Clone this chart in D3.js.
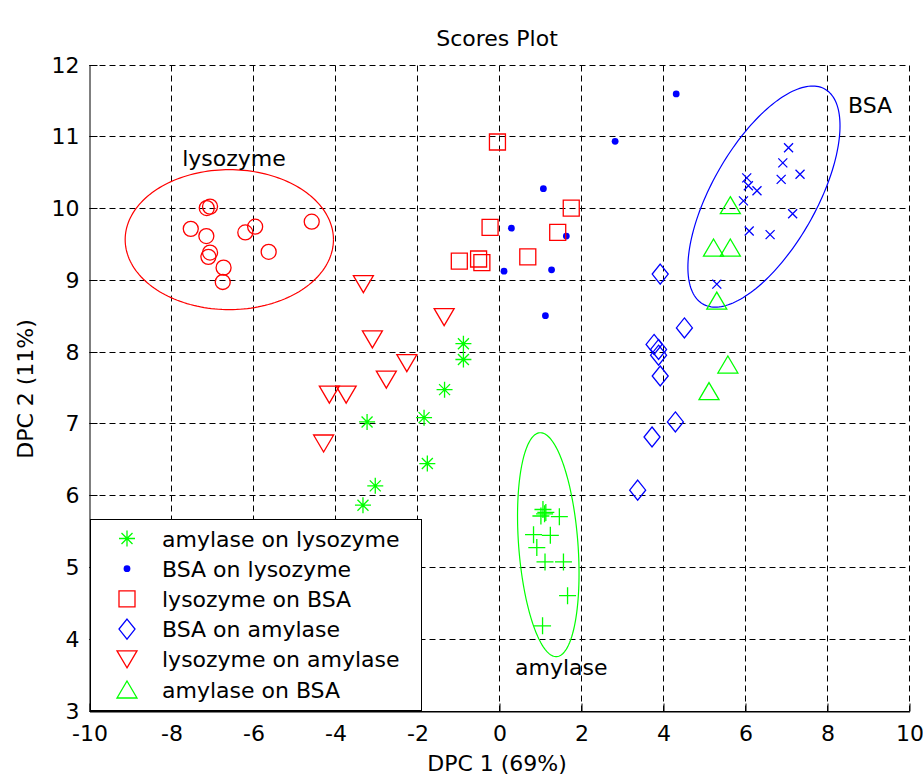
<!DOCTYPE html>
<html><head><meta charset="utf-8">
<script src="https://cdn.jsdelivr.net/npm/d3@7"></script>
<style>
body{margin:0;background:#fff;}
svg text{font-family:"DejaVu Sans",sans-serif;font-size:22px;fill:#000;}
</style></head><body>
<svg id="chart" width="923" height="777"></svg>
<script>
// ---------------- data ----------------
const xTicks = [-10,-8,-6,-4,-2,0,2,4,6,8,10];
const yTicks = [3,4,5,6,7,8,9,10,11,12];

const amylaseOnLysozyme = [[-0.88,8.11],[-0.88,7.89],[-1.34,7.47],[-1.84,7.08],[-3.23,7.02],[-1.76,6.44],[-3.03,6.13],[-3.33,5.86]];
const bsaOnLysozyme = [[1.07,10.27],[0.29,9.72],[1.63,9.61],[0.11,9.12],[1.27,9.14],[1.12,8.50],[4.31,11.59],[2.82,10.93]];
const lysozymeOnBSA = [[-0.05,10.92],[-0.23,9.73],[-0.98,9.26],[-0.51,9.29],[-0.43,9.24],[0.69,9.32],[1.42,9.66],[1.75,10.0]];
const bsaOnAmylase = [[3.92,9.08],[4.51,8.33],[3.77,8.10],[3.88,8.03],[3.88,7.95],[3.92,7.66],[4.29,7.02],[3.72,6.81],[3.37,6.07]];
const lysozymeOnAmylase = [[-1.35,8.48],[-3.10,8.17],[-2.26,7.84],[-2.76,7.61],[-4.15,7.40],[-3.74,7.40],[-4.29,6.72],[-3.32,8.94]];
const amylaseOnBSA = [[5.63,10.04],[5.22,9.45],[5.63,9.45],[5.30,8.71],[5.57,7.82],[5.11,7.45]];

const lysozymeRef = [[-7.14,10.00],[-7.06,10.02],[-7.53,9.71],[-7.15,9.61],[-7.06,9.38],[-7.10,9.32],[-6.73,9.17],[-6.75,8.97],[-6.20,9.66],[-5.96,9.74],[-5.63,9.39],[-4.58,9.81]];
const bsaRef = [[7.05,10.84],[6.91,10.63],[7.33,10.47],[6.87,10.40],[6.03,10.42],[6.07,10.31],[6.28,10.24],[5.95,10.10],[7.15,9.92],[6.09,9.68],[6.60,9.63],[5.30,8.94]];
const amylaseRef = [[1.06,5.80],[1.13,5.76],[1.01,5.71],[1.10,5.74],[1.46,5.70],[0.83,5.45],[1.24,5.44],[0.91,5.27],[1.11,5.07],[1.56,5.07],[1.66,4.60],[1.05,4.18]];

const legendLabels = ["amylase on lysozyme","BSA on lysozyme","lysozyme on BSA","BSA on amylase","lysozyme on amylase","amylase on BSA"];

const ellipseNames = ["lysozyme","BSA","amylase"];
const ellipseCenters = [[-6.59,9.56],[6.45,10.16],[1.19,5.31]];
const ellipseSpread = [[2.54,0.975],[1.855,1.54],[0.75,1.56]];
const ellipseCorr = [0,0.64,-0.256];
const ellipseLabelAt = [[-7.74,10.59],[8.50,11.33],[0.38,3.49]];

// ---------------- drawing ----------------
const svg = d3.select("#chart");
const x = d3.scaleLinear([-10,10],[89.5,909.5]);
const y = d3.scaleLinear([3,12],[710.5,64.5]);
const ry = v => Math.round(y(v)) + 0.5;

const RED="#ff0000", GREEN="#00ff00", BLUE="#0000ff";

const markerPaths = {
  asterisk:"M-8,0H8M0,-8V8M-5.5,-5.5L5.5,5.5M-5.5,5.5L5.5,-5.5",
  square:"M-8,-8H8V8H-8Z",
  diamond:"M0,-10L8,0L0,10L-8,0Z",
  triUp:"M0,-8.5L10,8.5L-10,8.5Z",
  triDown:"M0,8.5L10,-8.5L-10,-8.5Z",
  plus:"M-8.5,0H8.5M0,-8.5V8.5",
  cross:"M-4.5,-4.5L4.5,4.5M-4.5,4.5L4.5,-4.5"
};

function drawMarker(g, type, color){
  if(type==="dot"){
    g.append("circle").attr("r",3.4).attr("fill",color);
  } else if(type==="circle"){
    g.append("circle").attr("r",7.5).attr("fill","none").attr("stroke",color).attr("stroke-width",1.3);
  } else {
    g.append("path").attr("d",markerPaths[type]).attr("fill","none").attr("stroke",color).attr("stroke-width",1.3);
  }
}

// grid
const grid = svg.append("g").attr("stroke","#000").attr("stroke-width",1).attr("stroke-dasharray","6,4");
xTicks.filter(v=>v>-10).forEach(v=>{
  grid.append("line").attr("x1",x(v)).attr("x2",x(v)).attr("y1",ry(3)).attr("y2",ry(12));
});
yTicks.filter(v=>v>3).forEach(v=>{
  grid.append("line").attr("x1",x(-10)).attr("x2",x(10)).attr("y1",ry(v)).attr("y2",ry(v));
});

// axes
const xAxis = svg.append("g").attr("transform",`translate(0,${ry(3)})`)
  .call(d3.axisBottom(x).tickValues(xTicks).tickSize(-8).tickSizeOuter(0).tickPadding(14).tickFormat(d3.format("d")));
const yAxis = svg.append("g").attr("transform",`translate(${x(-10)},0)`)
  .call(d3.axisLeft(y).tickValues(yTicks).tickSize(-8).tickSizeOuter(0).tickPadding(10).tickFormat(d3.format("d")));
yAxis.selectAll(".tick").attr("transform",d=>`translate(0,${ry(d)})`);
[xAxis,yAxis].forEach(a=>{
  a.attr("font-family",null).attr("font-size",null);
  a.selectAll("path,line").attr("stroke","#000").attr("stroke-width",1);
  a.selectAll("text").style("font-size","22px").style("font-family","'DejaVu Sans',sans-serif");
});
xAxis.selectAll("text").text(d=>d<0?"-"+Math.abs(d):d);
yAxis.selectAll("text").attr("dy","0.34em");

// ellipses
ellipseNames.forEach((name,i)=>{
  const [cx,cy]=ellipseCenters[i], [sx,sy]=ellipseSpread[i], r=ellipseCorr[i];
  const pts = d3.range(0,361,2).map(t=>{
    const a=t*Math.PI/180;
    return [x(cx+sx*Math.cos(a)), y(cy+sy*(r*Math.cos(a)+Math.sqrt(1-r*r)*Math.sin(a)))];
  });
  const col = i===0?RED:(i===1?BLUE:GREEN);
  svg.append("path").attr("d",d3.line()(pts)).attr("fill","none").attr("stroke",col).attr("stroke-width",1.2);
  svg.append("text").attr("x",x(ellipseLabelAt[i][0])).attr("y",y(ellipseLabelAt[i][1])).text(name);
});

// series
const seriesList = [
  {data:lysozymeRef, type:"circle", color:RED},
  {data:bsaRef, type:"cross", color:BLUE},
  {data:amylaseRef, type:"plus", color:GREEN},
  {data:amylaseOnLysozyme, type:"asterisk", color:GREEN},
  {data:bsaOnLysozyme, type:"dot", color:BLUE},
  {data:lysozymeOnBSA, type:"square", color:RED},
  {data:bsaOnAmylase, type:"diamond", color:BLUE},
  {data:lysozymeOnAmylase, type:"triDown", color:RED},
  {data:amylaseOnBSA, type:"triUp", color:GREEN}
];
seriesList.forEach(s=>{
  s.data.forEach(p=>{
    const g = svg.append("g").attr("transform",`translate(${x(p[0])},${y(p[1])})`);
    drawMarker(g,s.type,s.color);
  });
});

// legend
const legendTypes = seriesList.slice(3);
const lg = svg.append("g");
lg.append("rect").attr("x",90.5).attr("y",519.5).attr("width",331).attr("height",191)
  .attr("fill","#fff").attr("stroke","#000").attr("stroke-width",1);
legendLabels.forEach((lab,i)=>{
  const cy = 538.5 + i*30.2;
  const g = lg.append("g").attr("transform",`translate(127,${cy})`);
  drawMarker(g, legendTypes[i].type, legendTypes[i].color);
  lg.append("text").attr("x",162).attr("y",cy+8).text(lab);
});
svg.append("line").attr("x1",89.5).attr("x2",909.5).attr("y1",ry(3)).attr("y2",ry(3)).attr("stroke","#000");

// titles
svg.append("text").attr("x",497).attr("y",46).attr("text-anchor","middle").text("Scores Plot");
svg.append("text").attr("x",497).attr("y",771).attr("text-anchor","middle").text("DPC 1 (69%)");
svg.append("text").attr("transform","translate(33,389) rotate(-90)").attr("text-anchor","middle").text("DPC 2 (11%)");
</script>
</body></html>
